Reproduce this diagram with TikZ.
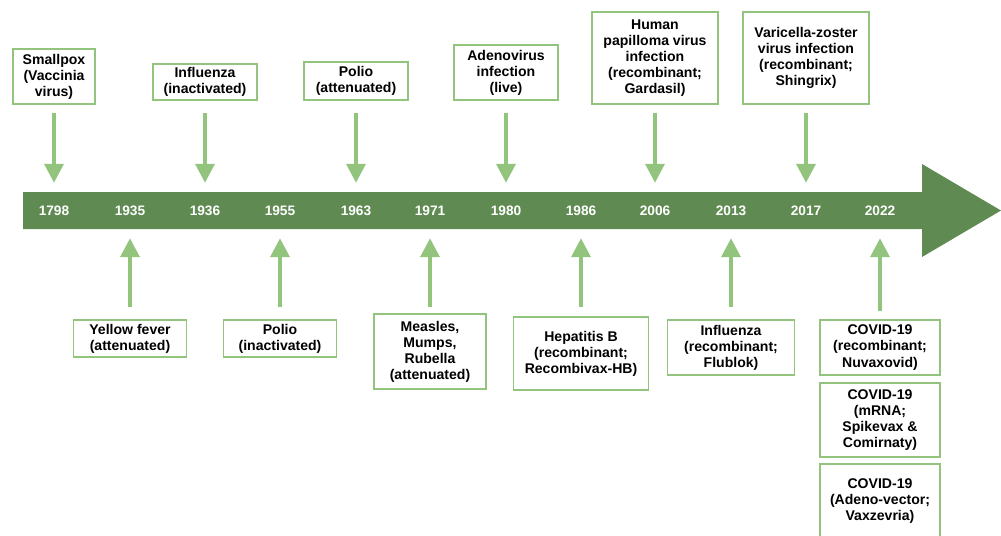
\documentclass[tikz,border=0pt]{standalone}
\usepackage{fontspec}
\setmainfont{Liberation Sans}
\usepackage{tikz}
\usetikzlibrary{arrows.meta,positioning}
\definecolor{bar}{HTML}{5F8B52}
\definecolor{leaf}{HTML}{93C47D}

\begin{document}
\begin{tikzpicture}[x=0.3mm, y=-0.3mm, >={Triangle[width=5.7mm,length=5.7mm]},
  box/.style={draw=leaf, line width=0.45mm, fill=white, align=center, inner sep=1pt,
              font=\fontsize{12}{13.7}\selectfont\bfseries},
  year/.style={minimum height=11.1mm, inner sep=0pt, text=white,
               font=\fontsize{11.7}{13.7}\selectfont\bfseries},
  link/.style={->, leaf, line width=1.1mm}]
  \useasboundingbox (0,0) rectangle (1001,535);
  % timeline bar
  \fill[bar] (23,192) -- (922,192) -- (922,164) -- (1001,210.5) -- (922,257)
    -- (922,229) -- (23,229) -- cycle;
  \foreach \x/\yr in {54/1798,130/1935,205/1936,280/1955,356/1963,430/1971,
                      506/1980,581/1986,655/2006,731/2013,806/2017,880/2022}
    \node[year] (y\yr) at (\x,210.5) {\yr};
  % above the bar
  \node[box, minimum width=24.6mm, minimum height=16.5mm] (smallpox) at (54,76.5) {Smallpox\\(Vaccinia\\virus)};
  \node[box, minimum width=31.2mm, minimum height=10.8mm] (flu) at (205,82) {Influenza\\(inactivated)};
  \node[box, minimum width=31.2mm, minimum height=11.4mm] (polio) at (356,81) {Polio\\(attenuated)};
  \node[box, minimum width=31.2mm, minimum height=16.5mm] (adeno) at (506,72.5) {Adenovirus\\infection\\(live)};
  \node[box, minimum width=37.8mm, minimum height=27.6mm] (hpv) at (655,58) {Human\\papilloma virus\\infection\\(recombinant;\\Gardasil)};
  \node[box, minimum width=37.8mm, minimum height=27.6mm] (zoster) at (806,58) {Varicella-zoster\\virus infection\\(recombinant;\\Shingrix)};
  % below the bar
  \node[box, minimum width=33.9mm, minimum height=11.1mm] (yellow) at (130,338.5) {Yellow fever\\(attenuated)};
  \node[box, minimum width=33.9mm, minimum height=11.1mm] (ipv) at (280,338.5) {Polio\\(inactivated)};
  \node[box, minimum width=33.6mm, minimum height=22.5mm] (mmr) at (430,351.5) {Measles,\\Mumps,\\Rubella\\(attenuated)};
  \node[box, minimum width=40.5mm, minimum height=21.9mm] (hepb) at (581,353.5) {Hepatitis B\\(recombinant;\\Recombivax-HB)};
  \node[box, minimum width=38.1mm, minimum height=16.5mm] (flublok) at (731,347.5) {Influenza\\(recombinant;\\Flublok)};
  \node[box, minimum width=36mm, minimum height=16.5mm] (nuva) at (880,347.5) {COVID-19\\(recombinant;\\Nuvaxovid)};
  \node[box, minimum width=36mm, minimum height=22.2mm] (mrna) at (880,420) {COVID-19\\(mRNA;\\Spikevax \&\\Comirnaty)};
  \node[box, minimum width=36mm, minimum height=22.2mm] (adenovec) at (880,501) {COVID-19\\(Adeno-vector;\\Vaxzevria)};
  % arrows to the bar
  \foreach \b/\yr/\s in {smallpox/1798/2.4mm, flu/1936/3.6mm, polio/1963/3.6mm,
                         adeno/1980/3.6mm, hpv/2006/2.4mm, zoster/2017/2.4mm,
                         yellow/1935/3.6mm, ipv/1955/3.6mm, mmr/1971/1.8mm,
                         hepb/1986/2.7mm, flublok/2013/3.6mm, nuva/2022/2.4mm}
    \draw[link, shorten <=\s, shorten >=2.7mm] (\b) -- (y\yr);
\end{tikzpicture}
\end{document}
